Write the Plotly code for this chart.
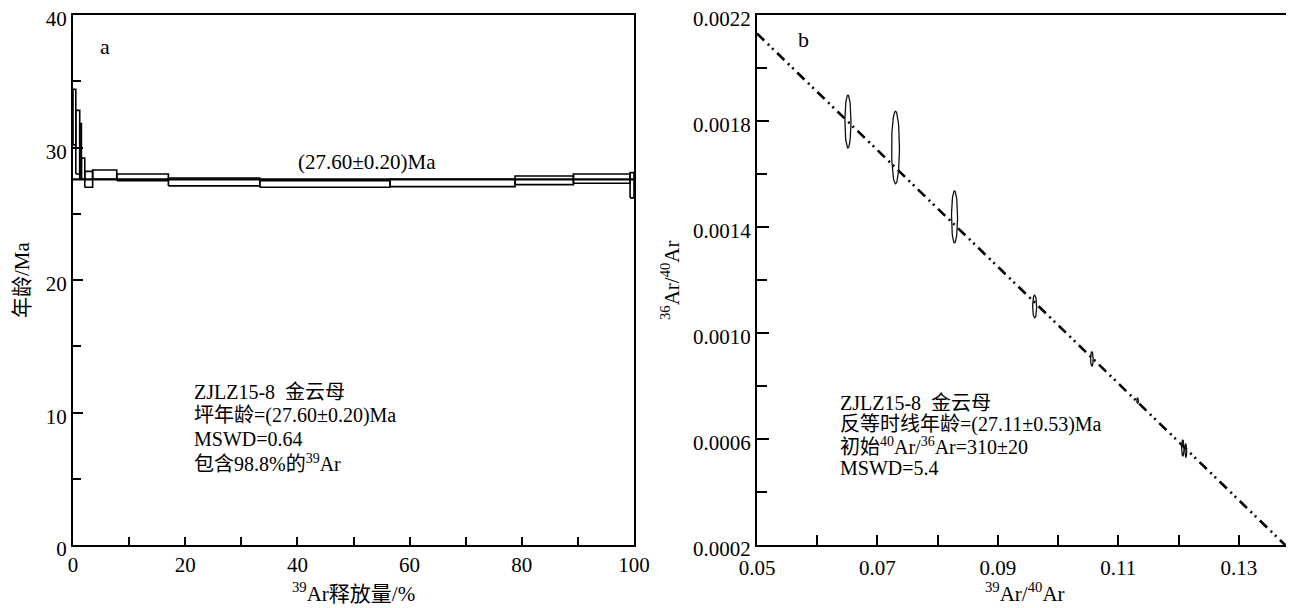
import numpy as np
import plotly.graph_objects as go

# ---------------- data: panel a (age spectrum) ----------------
step_start = [0, 0.5, 1.2, 1.5, 2.1, 3.5, 7.8, 17.0, 33.3, 56.5, 78.8, 89.2, 99.3]
step_end = [0.5, 1.2, 1.5, 2.1, 3.5, 7.8, 17.0, 33.3, 56.5, 78.8, 89.2, 99.3, 100]
age_low = [30.2, 28.0, 27.6, 27.6, 27.0, 27.6, 27.5, 27.1, 27.0, 27.05, 27.2, 27.3, 26.2]
age_high = [34.4, 32.8, 31.8, 29.2, 28.2, 28.3, 28.0, 27.7, 27.5, 27.6, 27.85, 28.0, 28.1]
plateau_age = 27.6
plateau_x = [0, 100]

# ---------------- data: panel b (inverse isochron) ----------------
ell_x = [0.0651, 0.0730, 0.0828, 0.0961, 0.1056, 0.1132, 0.1207, 0.1212]
ell_y = [0.001798, 0.001700, 0.001438, 0.001100, 0.000902, 0.000745, 0.000566, 0.000556]
ell_rx = [0.00050, 0.00065, 0.00050, 0.00033, 0.00022, 0.00015, 0.00020, 0.00015]
ell_ry = [0.000100, 0.000137, 0.000098, 0.000043, 0.000027, 0.000010, 0.000030, 0.000025]
iso_x = [0.05, 0.1377]
iso_y = [0.00213, 0.0002]

FONT = "Liberation Serif, Times New Roman, Noto Sans CJK SC, serif"
BLACK = "#000000"

fig = go.Figure()

# spectrum boxes
bx, by = [], []
for s, e, lo, hi in zip(step_start, step_end, age_low, age_high):
    bx += [s, e, e, s, s, None]
    by += [lo, lo, hi, hi, lo, None]
fig.add_trace(go.Scatter(x=bx, y=by, mode="lines", line=dict(color=BLACK, width=1.6),
                         xaxis="x", yaxis="y", showlegend=False, hoverinfo="skip"))
fig.add_trace(go.Scatter(x=plateau_x, y=[plateau_age, plateau_age], mode="lines",
                         line=dict(color=BLACK, width=2.2), xaxis="x", yaxis="y",
                         showlegend=False, hoverinfo="skip"))

# isochron line
fig.add_trace(go.Scatter(x=iso_x, y=iso_y, mode="lines",
                         line=dict(color=BLACK, width=2.6, dash="10px,5px,2px,4px,2px,5px"),
                         xaxis="x2", yaxis="y2", showlegend=False, hoverinfo="skip"))

# ellipses
t = np.linspace(0, 2 * np.pi, 60)
ex, ey = [], []
for cx, cy, rx, ry in zip(ell_x, ell_y, ell_rx, ell_ry):
    ex += list(cx + rx * np.cos(t)) + [None]
    ey += list(cy + ry * np.sin(t)) + [None]
fig.add_trace(go.Scatter(x=ex, y=ey, mode="lines", line=dict(color="#111111", width=1.3),
                         xaxis="x2", yaxis="y2", showlegend=False, hoverinfo="skip"))

W, H = 1294, 608
OFF = 8  # page body margin offset


def px(xp):
    return (xp - OFF) / W


def py(yp):
    return 1 - (yp - OFF) / H


ydom = [py(545), py(15)]
ax_common = dict(showgrid=False, zeroline=False, showline=True, linecolor=BLACK, linewidth=2,
                 mirror=True, ticks="inside", tickcolor=BLACK, tickwidth=1.5, automargin=False,
                 ticklabeloverflow="allow",
                 tickfont=dict(family=FONT, size=21, color=BLACK))

fig.update_layout(
    width=W, height=H, margin=dict(l=0, r=0, t=0, b=0, autoexpand=False),
    paper_bgcolor="white", plot_bgcolor="white",
    xaxis=dict(domain=[px(73), px(634)], range=[0, 100], tickvals=[0, 20, 40, 60, 80, 100],
               ticklen=8, minor=dict(dtick=10, ticks="inside", ticklen=8, tickcolor=BLACK, tickwidth=1.5),
               anchor="y", **ax_common),
    yaxis=dict(domain=ydom, range=[0, 40], tickvals=[0, 10, 20, 30, 40], ticklabelshift=4,
               ticklen=10, minor=dict(dtick=5, ticks="inside", ticklen=8, tickcolor=BLACK, tickwidth=1.5),
               anchor="x", **ax_common),
    xaxis2=dict(domain=[px(757), px(1293)], range=[0.05, 0.139], ticklabelstandoff=3,
                tickvals=[0.05, 0.07, 0.09, 0.11, 0.13], tickformat=".2f",
                ticklen=10, minor=dict(tickvals=[0.06, 0.08, 0.10, 0.12], ticks="inside", ticklen=10,
                                       tickcolor=BLACK, tickwidth=1.5),
                anchor="y2", **ax_common),
    yaxis2=dict(domain=ydom, range=[0.0002, 0.0022], ticklabelshift=4,
                tickvals=[0.0002, 0.0006, 0.0010, 0.0014, 0.0018, 0.0022], tickformat=".4f",
                ticklen=12, minor=dict(tickvals=[0.0004, 0.0008, 0.0012, 0.0016, 0.0020], ticks="inside",
                                       ticklen=10, tickcolor=BLACK, tickwidth=1.5),
                anchor="x2", **ax_common),
)

ann = []


def txt(x, y, s, xref, yref, xanchor="left", size=21, angle=0, yanchor="middle"):
    ann.append(dict(x=x, y=y, xref=xref, yref=yref, text=s, showarrow=False, xanchor=xanchor,
                    yanchor=yanchor, textangle=angle, font=dict(family=FONT, size=size, color=BLACK)))


# panel a
txt(5.7, 37.6, "a", "x", "y", xanchor="center", size=22)
txt(52.4, 28.9, "(27.60±0.20)Ma", "x", "y", xanchor="center")
a_lines = ["ZJLZ15-8  金云母", "坪年龄=(27.60±0.20)Ma", "MSWD=0.64", "包含98.8%的<sup>39</sup>Ar"]
for i, s in enumerate(a_lines):
    txt(px(192), py(392 + 23.5 * i), s, "paper", "paper", size=20)

# panel b
txt(0.0577, 0.002106, "b", "x2", "y2", xanchor="center", size=22)
b_lines = ["ZJLZ15-8  金云母", "反等时线年龄=(27.11±0.53)Ma", "初始<sup>40</sup>Ar/<sup>36</sup>Ar=310±20", "MSWD=5.4"]
for i, s in enumerate(b_lines):
    txt(px(838), py(403 + 21.5 * i), s, "paper", "paper", size=20)

# axis titles
txt(px(22), py(280), "年龄/Ma", "paper", "paper", xanchor="center", angle=-90)
txt(px(353), py(592), "<sup>39</sup>Ar释放量/%", "paper", "paper", xanchor="center")
txt(px(670), py(280), "<sup>36</sup>Ar/<sup>40</sup>Ar", "paper", "paper", xanchor="center", angle=-90)
txt(px(1025), py(592), "<sup>39</sup>Ar/<sup>40</sup>Ar", "paper", "paper", xanchor="center")

fig.update_layout(annotations=ann)
fig.write_html("out.html")
